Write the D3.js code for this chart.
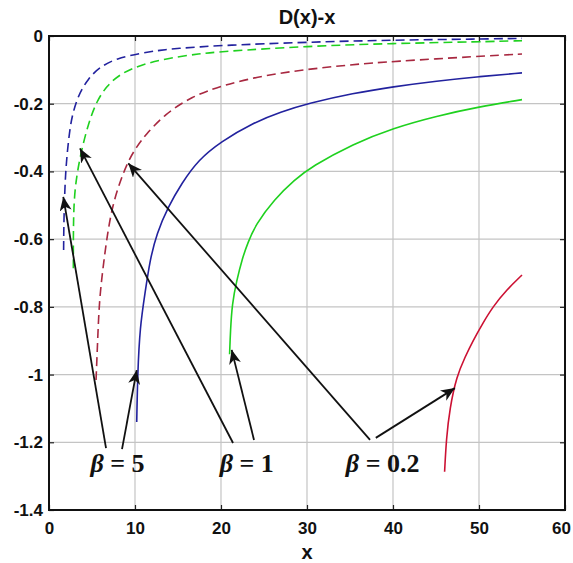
<!DOCTYPE html>
<html>
<head>
<meta charset="utf-8">
<script src="https://cdn.jsdelivr.net/npm/d3@7"></script>
<style>
  body { margin: 0; background: #fff; }
  svg { display: block; }
</style>
</head>
<body>
<svg id="chart" width="573" height="563"></svg>
<script>
// ---------------- data ----------------
const chartTitle = "D(x)-x";
const xLabel = "x";
const xTicks = [0, 10, 20, 30, 40, 50, 60];
const yTicks = [0, -0.2, -0.4, -0.6, -0.8, -1, -1.2, -1.4];

// solid curves [x, D(x)-x]
const beta5Solid = [[10.2,-1.14],[10.31,-0.996],[10.58,-0.859],[11.16,-0.76],[11.74,-0.662],[12.52,-0.583],[13.87,-0.504],[15.43,-0.435],[17.36,-0.366],[20,-0.312],[23.6,-0.258],[27,-0.224],[30.15,-0.199],[35.4,-0.169],[40,-0.15],[45.1,-0.133],[50,-0.12],[55,-0.109]];
const beta1Solid = [[21.0,-0.94],[21.1,-0.87],[21.3,-0.79],[21.8,-0.725],[22.5,-0.655],[23.1,-0.612],[24.0,-0.558],[26.2,-0.482],[28.6,-0.424],[30.5,-0.386],[35.4,-0.318],[40,-0.272],[45.1,-0.236],[50,-0.209],[55,-0.188]];
const beta02Solid = [[46.0,-1.287],[46.2,-1.19],[46.6,-1.1],[47.4,-1.005],[48.4,-0.947],[49.3,-0.9],[50.4,-0.85],[51.6,-0.8],[53.2,-0.75],[55,-0.706]];

// dashed curves
const beta5Dashed = [[1.7,-0.632],[1.72,-0.55],[1.9,-0.4],[2.3,-0.3],[2.64,-0.238],[3.41,-0.174],[4.57,-0.125],[5.93,-0.091],[7.87,-0.066],[10.58,-0.051],[12.9,-0.042],[15.2,-0.036],[17.6,-0.032],[20,-0.028],[30,-0.018],[40,-0.012],[50,-0.009],[55,-0.007]];
const beta1Dashed = [[2.83,-0.686],[2.83,-0.6],[2.86,-0.524],[3.02,-0.445],[3.6,-0.356],[4.57,-0.258],[5.55,-0.192],[6.7,-0.148],[8.26,-0.112],[10.58,-0.086],[13.7,-0.066],[17.6,-0.052],[20,-0.046],[30,-0.03],[40,-0.022],[50,-0.017],[55,-0.014]];
const beta02Dashed = [[5.47,-1.016],[5.66,-0.898],[5.85,-0.78],[6.3,-0.68],[6.8,-0.583],[7.4,-0.5],[8.26,-0.43],[9.22,-0.368],[10.2,-0.327],[11.16,-0.294],[13.49,-0.23],[16.59,-0.179],[20.2,-0.145],[25.1,-0.116],[30.15,-0.098],[35,-0.085],[40,-0.075],[50,-0.06],[55,-0.053]];

const seriesNames = ["beta5Dashed","beta1Dashed","beta02Dashed","beta5Solid","beta1Solid","beta02Solid"];
const seriesData = [beta5Dashed, beta1Dashed, beta02Dashed, beta5Solid, beta1Solid, beta02Solid];
const seriesColors = ["#22229e","#1fd11f","#a82840","#22229e","#1fd11f","#cc1133"];
const seriesDashed = [true, true, true, false, false, false];

// annotations: label text, label position, arrows [from, to]
const labelValues = ["5", "1", "0.2"];
const labelPos = [[7.97,-1.288],[23.0,-1.288],[38.8,-1.288]];
const arrowLines = [
  [[6.63,-1.217],[1.66,-0.475]],
  [[8.49,-1.220],[10.2,-0.987]],
  [[21.4,-1.202],[3.6,-0.332]],
  [[23.84,-1.193],[21.24,-0.927]],
  [[37.33,-1.193],[9.22,-0.376]],
  [[38.0,-1.187],[47.2,-1.04]]
];

// ---------------- drawing ----------------
const svg = d3.select("#chart");
const mL = 49, mR = 565, mT = 36, mB = 510;
const x = d3.scaleLinear().domain([0, 60]).range([mL, mR]);
const y = d3.scaleLinear().domain([-1.4, 0]).range([mB, mT]);

svg.append("rect").attr("width", 573).attr("height", 563).attr("fill", "#fff");

// grid
const grid = svg.append("g").attr("stroke", "#c4c4c4").attr("stroke-width", 1.2);
xTicks.slice(1, -1).forEach(t => grid.append("line").attr("x1", x(t)).attr("x2", x(t)).attr("y1", mT).attr("y2", mB));
yTicks.slice(1, -1).forEach(t => grid.append("line").attr("y1", y(t)).attr("y2", y(t)).attr("x1", mL).attr("x2", mR));

// axes (inner ticks)
const fmt = d => (d === 0 ? "0" : String(+d.toFixed(1)));
const axB = svg.append("g").attr("transform", `translate(0,${mB})`)
  .call(d3.axisBottom(x).tickValues(xTicks).tickSizeInner(-5).tickSizeOuter(0).tickPadding(12).tickFormat(fmt));
const axL = svg.append("g").attr("transform", `translate(${mL},0)`)
  .call(d3.axisLeft(y).tickValues(yTicks).tickSizeInner(-5).tickSizeOuter(0).tickPadding(6).tickFormat(fmt));
const axT = svg.append("g").attr("transform", `translate(0,${mT})`)
  .call(d3.axisTop(x).tickValues(xTicks).tickSizeInner(-5).tickSizeOuter(0).tickFormat(""));
const axR = svg.append("g").attr("transform", `translate(${mR},0)`)
  .call(d3.axisRight(y).tickValues(yTicks).tickSizeInner(-5).tickSizeOuter(0).tickFormat(""));
[axB, axL, axT, axR].forEach(a => {
  a.select(".domain").remove();
  a.selectAll(".tick line").attr("stroke", "#222").attr("stroke-width", 1.2);
  a.selectAll("text").attr("font-family", "Liberation Sans, Arial, sans-serif")
    .attr("font-weight", "bold").attr("font-size", 17).attr("fill", "#111");
});
// keep the last x tick label inside the page
axB.selectAll(".tick text").filter(d => d === 60).attr("dx", -4);

// curves
const line = d3.line().x(d => x(d[0])).y(d => y(d[1])).curve(d3.curveBasis);
const curves = svg.append("g").attr("fill", "none");
seriesData.forEach((s, i) => {
  curves.append("path").attr("d", line(s))
    .attr("stroke", seriesColors[i]).attr("stroke-width", 1.6)
    .attr("stroke-dasharray", seriesDashed[i] ? "9,5" : null)
    .attr("class", seriesNames[i]);
});

// frame
svg.append("rect").attr("x", mL).attr("y", mT).attr("width", mR - mL).attr("height", mB - mT)
  .attr("fill", "none").attr("stroke", "#111").attr("stroke-width", 2);

// arrows
const defs = svg.append("defs");
defs.append("marker").attr("id", "ah").attr("markerUnits", "userSpaceOnUse")
  .attr("markerWidth", 16).attr("markerHeight", 14).attr("refX", 14).attr("refY", 6)
  .attr("orient", "auto")
  .append("path").attr("d", "M0,0 L14,6 L0,12 L4,6 Z").attr("fill", "#111");
const arrows = svg.append("g");
arrowLines.forEach(a => {
  arrows.append("line")
    .attr("x1", x(a[0][0])).attr("y1", y(a[0][1]))
    .attr("x2", x(a[1][0])).attr("y2", y(a[1][1]))
    .attr("stroke", "#111").attr("stroke-width", 1.8)
    .attr("marker-end", "url(#ah)");
});

// beta labels
labelValues.forEach((v, i) => {
  const t = svg.append("text")
    .attr("x", x(labelPos[i][0])).attr("y", y(labelPos[i][1]))
    .attr("text-anchor", "middle")
    .attr("font-family", "Liberation Serif, Times New Roman, serif")
    .attr("font-weight", "bold").attr("font-size", 26).attr("fill", "#111");
  t.append("tspan").attr("font-style", "italic").text("β");
  t.append("tspan").text(" = " + v);
});

// title & x label
svg.append("text").attr("x", x(30)).attr("y", 24).attr("text-anchor", "middle")
  .attr("font-family", "Liberation Sans, Arial, sans-serif").attr("font-weight", "bold")
  .attr("font-size", 20).attr("fill", "#111").text(chartTitle);
svg.append("text").attr("x", x(30)).attr("y", 559).attr("text-anchor", "middle")
  .attr("font-family", "Liberation Sans, Arial, sans-serif").attr("font-weight", "bold")
  .attr("font-size", 20).attr("fill", "#111").text(xLabel);
</script>
</body>
</html>
